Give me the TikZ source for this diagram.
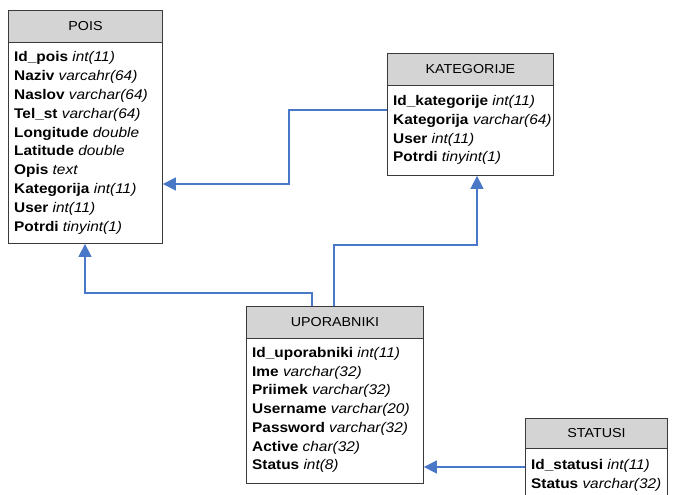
\documentclass[tikz,border=0pt]{standalone}
\usepackage{fontspec}
\setmainfont{Liberation Sans}
\newfontfamily\erfont[FakeStretch=1.1]{Liberation Sans}
\usetikzlibrary{arrows.meta}
\definecolor{hdrgray}{HTML}{D4D4D4}
\definecolor{edgegray}{HTML}{3A3A3A}
\definecolor{linkblue}{HTML}{4A78C8}
\tikzset{
  hdr/.style={draw=edgegray, fill=hdrgray, line width=0.9pt, anchor=north west, inner sep=0pt,
    font=\erfont\fontsize{13}{15}\selectfont},
  tbody/.style={draw=edgegray, fill=white, line width=0.9pt, anchor=north west, inner sep=0pt},
  rowtext/.style={anchor=west, inner sep=0pt, text height=10pt, text depth=0pt,
    font=\erfont\fontsize{14}{16}\selectfont},
  link/.style={draw=linkblue, line width=1.3pt, -{Triangle[length=13pt,width=13pt]}},
}
\newcommand\erow[4]{\node[rowtext] (#1) at (#2,#3) {#4};}
\begin{document}
\begin{tikzpicture}[x=1pt,y=-1pt]
\useasboundingbox (0,0) rectangle (673,495);
\clip (0,0) rectangle (673,495);
\fill[white] (0,0) rectangle (673,495);

% POIS
\node[tbody, minimum width=154pt, minimum height=201pt] (poisb) at (8,42) {};
\node[hdr, minimum width=154pt, minimum height=32pt] (poish) at (8,10) {POIS};
\erow{p1}{14}{57.0}{\textbf{Id\_pois} \textit{int(11)}}
\erow{p2}{14}{75.8}{\textbf{Naziv} \textit{varcahr(64)}}
\erow{p3}{14}{94.6}{\textbf{Naslov} \textit{varchar(64)}}
\erow{p4}{14}{113.4}{\textbf{Tel\_st} \textit{varchar(64)}}
\erow{p5}{14}{132.2}{\textbf{Longitude} \textit{double}}
\erow{p6}{14}{151.0}{\textbf{Latitude} \textit{double}}
\erow{p7}{14}{169.8}{\textbf{Opis} \textit{text}}
\erow{p8}{14}{188.6}{\textbf{Kategorija} \textit{int(11)}}
\erow{p9}{14}{207.4}{\textbf{User} \textit{int(11)}}
\erow{p10}{14}{226.2}{\textbf{Potrdi} \textit{tinyint(1)}}

% KATEGORIJE
\node[tbody, minimum width=166pt, minimum height=90pt] (katb) at (387,85) {};
\node[hdr, minimum width=166pt, minimum height=32pt] (kath) at (387,53) {KATEGORIJE};
\erow{k1}{393}{100.5}{\textbf{Id\_kategorije} \textit{int(11)}}
\erow{k2}{393}{119.3}{\textbf{Kategorija} \textit{varchar(64)}}
\erow{k3}{393}{138.1}{\textbf{User} \textit{int(11)}}
\erow{k4}{393}{156.9}{\textbf{Potrdi} \textit{tinyint(1)}}

% UPORABNIKI
\node[tbody, minimum width=177pt, minimum height=145pt] (upob) at (246,338) {};
\node[hdr, minimum width=177pt, minimum height=32pt] (upoh) at (246,306) {UPORABNIKI};
\erow{u1}{252}{352.5}{\textbf{Id\_uporabniki} \textit{int(11)}}
\erow{u2}{252}{371.2}{\textbf{Ime} \textit{varchar(32)}}
\erow{u3}{252}{389.9}{\textbf{Priimek} \textit{varchar(32)}}
\erow{u4}{252}{408.6}{\textbf{Username} \textit{varchar(20)}}
\erow{u5}{252}{427.3}{\textbf{Password} \textit{varchar(32)}}
\erow{u6}{252}{446.0}{\textbf{Active} \textit{char(32)}}
\erow{u7}{252}{464.7}{\textbf{Status} \textit{int(8)}}

% STATUSI
\node[tbody, minimum width=142pt, minimum height=70pt] (stab) at (525,448) {};
\node[hdr, minimum width=142pt, minimum height=30pt] (stah) at (525,418) {STATUSI};
\erow{s1}{531}{464.5}{\textbf{Id\_statusi} \textit{int(11)}}
\erow{s2}{531}{483.3}{\textbf{Status} \textit{varchar(32)}}

% connectors
\coordinate (c1) at (289,110);
\coordinate (c2) at (289,184);
\draw[link] (katb.west |- c1) -- (c1) -- (c2) -- (poisb.east |- c2);
\coordinate (c3) at (312,293);
\coordinate (c4) at (85,293);
\draw[link] (upoh.north -| c3) -- (c3) -- (c4) -- (poisb.south -| c4);
\coordinate (c5) at (334,245);
\coordinate (c6) at (477,245);
\draw[link] (upoh.north -| c5) -- (c5) -- (c6) -- (katb.south -| c6);
\coordinate (c7) at (500,467);
\draw[link] (stab.west |- c7) -- (upob.east |- c7);
\end{tikzpicture}
\end{document}
